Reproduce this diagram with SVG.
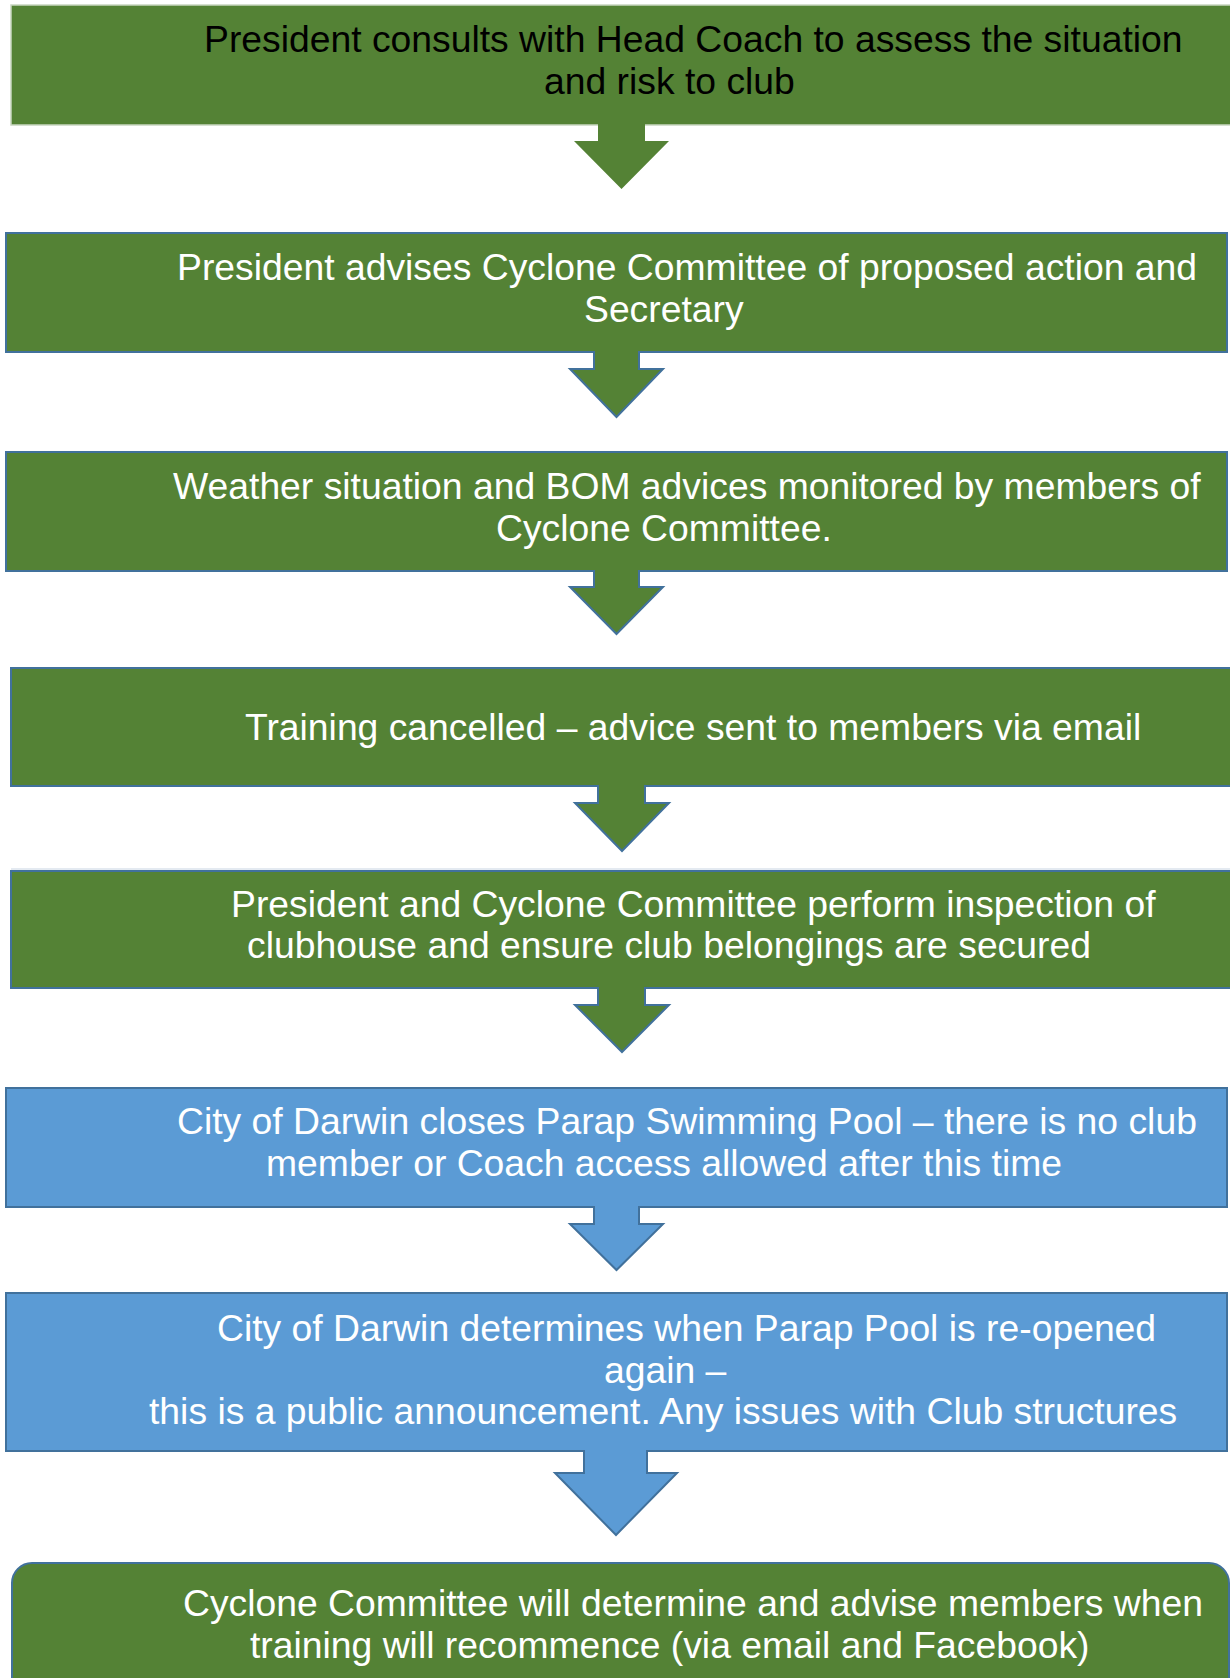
<svg xmlns="http://www.w3.org/2000/svg" width="1230" height="1678" viewBox="0 0 1230 1678">
<style>
.g{fill:#548235}
.b{fill:#5B9BD5}
.bd{stroke:#41719C;stroke-width:2}
.t{font-family:"Liberation Sans",Arial,sans-serif;font-size:37.3px;fill:#FFFFFF}
.k{fill:#000000}
.ag{fill:#548235;stroke:#41719C;stroke-width:2;stroke-linejoin:miter}
.ab{fill:#5B9BD5;stroke:#41719C;stroke-width:2;stroke-linejoin:miter}
</style>
<rect width="1230" height="1678" fill="#FFFFFF"/>
<g id="node1">
<rect x="11" y="5" width="1230" height="120" class="g" stroke="#C8D6C0" stroke-width="1.5"/>
<text class="t k" x="204" y="52">President consults with Head Coach to assess the situation</text>
<text class="t k" x="544" y="94">and risk to club</text>
</g>
<g id="node2">
<rect x="6" y="233" width="1221" height="119" class="g bd"/>
<text class="t" x="177" y="280">President advises Cyclone Committee of proposed action and</text>
<text class="t" x="584" y="322">Secretary</text>
</g>
<g id="node3">
<rect x="6" y="452" width="1221" height="119" class="g bd"/>
<text class="t" x="173" y="499">Weather situation and BOM advices monitored by members of</text>
<text class="t" x="496" y="541">Cyclone Committee.</text>
</g>
<g id="node4">
<rect x="11" y="668" width="1230" height="118" class="g bd"/>
<text class="t" x="245" y="740">Training cancelled – advice sent to members via email</text>
</g>
<g id="node5">
<line x1="11" y1="869" x2="1230" y2="869" stroke="#C9D5E3" stroke-width="1"/>
<rect x="11" y="871" width="1230" height="117" class="g bd"/>
<text class="t" x="231" y="917">President and Cyclone Committee perform inspection of</text>
<text class="t" x="247" y="958">clubhouse and ensure club belongings are secured</text>
</g>
<g id="node6">
<rect x="6" y="1088" width="1221" height="119" class="b bd"/>
<text class="t" x="177" y="1134">City of Darwin closes Parap Swimming Pool – there is no club</text>
<text class="t" x="266" y="1176">member or Coach access allowed after this time</text>
</g>
<g id="node7">
<rect x="6" y="1293" width="1221" height="158" class="b bd"/>
<text class="t" x="217" y="1341">City of Darwin determines when Parap Pool is re-opened</text>
<text class="t" x="604" y="1383">again –</text>
<text class="t" x="149" y="1424">this is a public announcement. Any issues with Club structures</text>
</g>
<g id="node8">
<rect x="12" y="1563" width="1217" height="160" rx="20" ry="20" class="g bd"/>
<text class="t" x="183" y="1616">Cyclone Committee will determine and advise members when</text>
<text class="t" x="250" y="1658">training will recommence (via email and Facebook)</text>
</g>
<g id="connectors">
<path d="M598,124 L598,141 L574,141 L621.5,189 L669,141 L645,141 L645,124" fill="#548235"/>
<path d="M594,351 L594,369 L570,369 L616.5,417 L663,369 L639,369 L639,351" class="ag"/>
<path d="M594,570 L594,587 L570,587 L616.5,634 L663,587 L639,587 L639,570" class="ag"/>
<path d="M598,785 L598,803 L575,803 L622,851 L669,803 L645,803 L645,785" class="ag"/>
<path d="M598,987 L598,1005 L575,1005 L622,1052 L669,1005 L645,1005 L645,987" class="ag"/>
<path d="M594,1206 L594,1224 L570,1224 L616.5,1270 L663,1224 L639,1224 L639,1206" class="ab"/>
<path d="M584,1450 L584,1473 L555,1473 L616,1535 L677,1473 L647,1473 L647,1450" class="ab"/>
</g>
</svg>
